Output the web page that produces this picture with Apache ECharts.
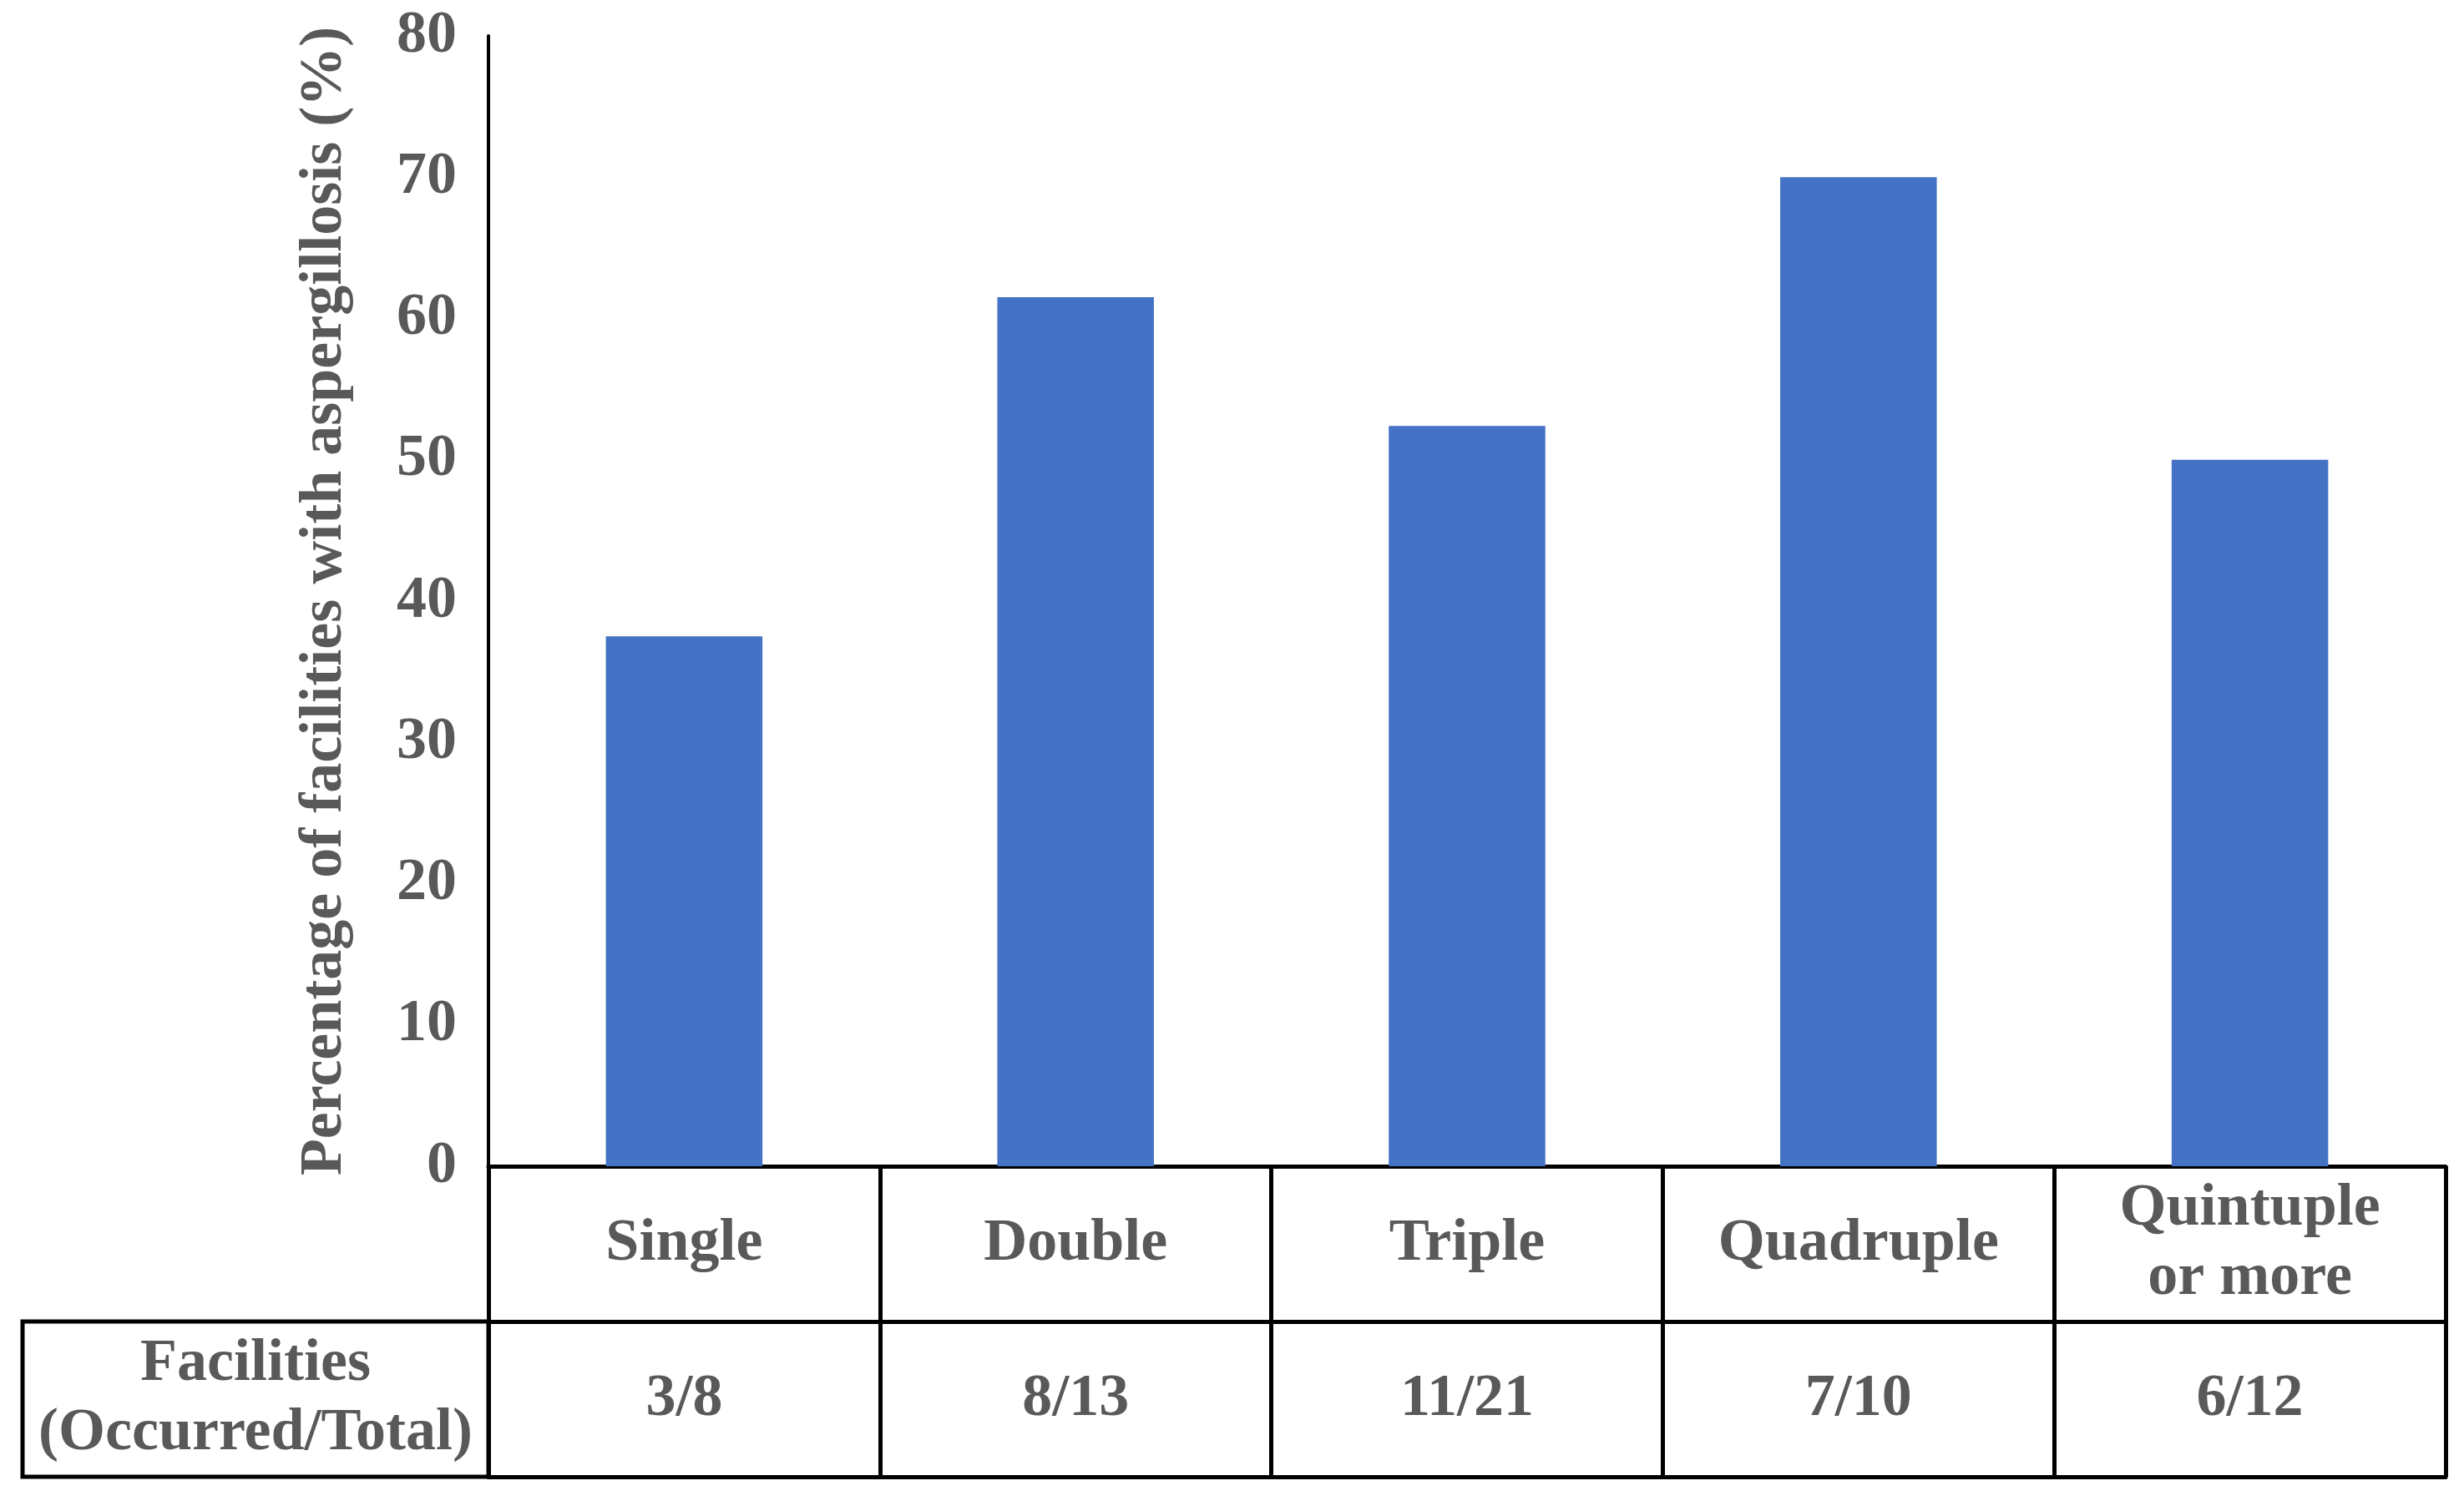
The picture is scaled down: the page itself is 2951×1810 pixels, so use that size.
<!DOCTYPE html>
<html><head><meta charset="utf-8">
<script src="https://cdn.jsdelivr.net/npm/echarts@6/dist/echarts.min.js"></script>
<style>html,body{margin:0;padding:0;background:#fff}#c{width:2951px;height:1810px}</style>
</head><body><div id="c"></div>
<script>
const categories = ['Single', 'Double', 'Triple', 'Quadruple', 'Quintuple\nor more'];
const facilities = ['3/8', '8/13', '11/21', '7/10', '6/12'];
const percentages = [37.5, 61.5, 52.4, 70, 50];
const rowHeader = 'Facilities\n(Occurred/Total)';
const yName = 'Percentage of facilities with aspergillosis (%)';

const FONT = '"Liberation Serif", "Times New Roman", serif';
const TXT = '#595959';
const chart = echarts.init(document.getElementById('c'));
const L = 585, R = 22, T = 43, B = 413;
const ROW = 186;
const lblStyle = {fontFamily: FONT, fontWeight: 'bold', fontSize: 72, color: TXT, lineHeight: 83};
chart.setOption({
  animation: false,
  grid: {left: L, right: R, top: T, bottom: B, containLabel: false},
  xAxis: [
    {type: 'category', data: categories, position: 'bottom',
     axisLine: {show: true, lineStyle: {color: '#000', width: 5}},
     axisTick: {show: true, inside: false, length: ROW, lineStyle: {color: '#000', width: 5}},
     axisLabel: Object.assign({margin: ROW / 2, verticalAlign: 'middle', interval: 0}, lblStyle)},
    {type: 'category', data: facilities, position: 'bottom', offset: ROW,
     axisLine: {show: true, lineStyle: {color: '#000', width: 5}},
     axisTick: {show: true, inside: false, length: ROW, lineStyle: {color: '#000', width: 5}},
     axisLabel: Object.assign({margin: ROW / 2, verticalAlign: 'middle', interval: 0}, lblStyle)},
    {type: 'category', data: facilities, position: 'bottom', offset: ROW * 2,
     axisLine: {show: true, lineStyle: {color: '#000', width: 5}},
     axisTick: {show: false}, axisLabel: {show: false}}
  ],
  yAxis: {type: 'value', min: 0, max: 80, interval: 10,
    name: yName, nameLocation: 'middle', nameGap: 160, nameRotate: 90,
    nameTextStyle: {fontFamily: FONT, fontWeight: 'bold', fontSize: 72, color: TXT},
    axisLine: {show: true, lineStyle: {color: '#000', width: 4}},
    axisTick: {show: false}, splitLine: {show: false},
    axisLabel: {margin: 38, fontFamily: FONT, fontWeight: 'bold', fontSize: 72, color: TXT}},
  series: [{type: 'bar', data: percentages, xAxisIndex: 0, barWidth: '40%',
    itemStyle: {color: '#4472C4'}}]
});
const top2 = 1810 - B + ROW;
chart.setOption({graphic: [
  {type: 'rect', shape: {x: 27, y: top2, width: L - 27, height: ROW},
   style: {fill: 'none', stroke: '#000', lineWidth: 5}},
  {type: 'text', x: (27 + L) / 2, y: top2 + ROW / 2,
   style: {text: rowHeader, align: 'center', verticalAlign: 'middle', font: 'bold 72px ' + FONT, fill: TXT, lineHeight: 83}}
]});
</script></body></html>
